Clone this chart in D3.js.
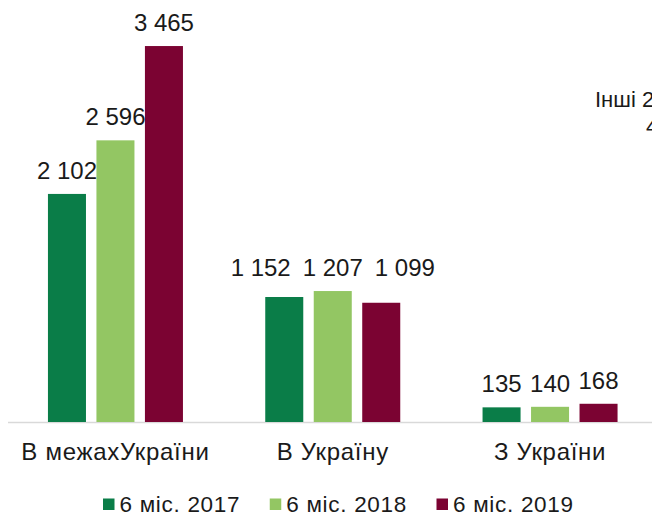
<!DOCTYPE html>
<html>
<head>
<meta charset="utf-8">
<script src="https://cdn.jsdelivr.net/npm/d3@7"></script>
<style>
  html, body { margin: 0; padding: 0; background: #fff; }
  svg { display: block; font-family: "Liberation Sans", Arial, sans-serif; }
</style>
</head>
<body>
<svg id="chart" width="652" height="515"></svg>
<script>
// ---- data ----
const categories = ["В межахУкраїни", "В Україну", "З України"];
const seriesNames = ["6 міс. 2017", "6 міс. 2018", "6 міс. 2019"];
const values2017 = [2102, 1152, 135];
const values2018 = [2596, 1207, 140];
const values2019 = [3465, 1099, 168];
const seriesColors = ["#0a7d48", "#93c663", "#7b0332"];
const sideNote = ["Інші 2", "4"];

const seriesValues = [values2017, values2018, values2019];
const fmt = v => d3.format(",")(v).replace(/,/g, " ");

const svg = d3.select("#chart");
const W = 652, H = 515;
const baseY = 422;

const x0 = d3.scaleBand().domain(categories).range([6.8, 658.7]).paddingInner(0).paddingOuter(0);
const x1 = d3.scaleBand().domain(seriesNames).range([-67.5, 67.5]).paddingInner(0.216).paddingOuter(0);
const y = d3.scaleLinear().domain([0, 4000]).range([baseY, -12]);

// axis
const axis = svg.append("g").attr("transform", `translate(0,${baseY + 0.5})`)
  .call(d3.axisBottom(x0).tickSize(0).tickSizeOuter(0));
axis.select(".domain").attr("stroke", "#d9d9d9").attr("stroke-width", 1.5)
  .attr("d", `M8,0H${W}`);
axis.selectAll(".tick text").attr("y", 37.5).attr("dy", 0)
  .attr("font-size", 24).attr("fill", "#1a1a1a")
  .attr("letter-spacing", 0.7)
  .attr("font-family", "Liberation Sans, Arial, sans-serif");

// bars
const groups = svg.append("g").selectAll("g").data(categories).join("g")
  .attr("transform", d => `translate(${x0(d) + x0.bandwidth() / 2},0)`);

groups.each(function(cat, ci) {
  const g = d3.select(this);
  const items = seriesNames.map((s, si) => ({ s, si, v: seriesValues[si][ci] }));
  g.selectAll("rect").data(items).join("rect")
    .attr("x", d => x1(d.s))
    .attr("width", x1.bandwidth())
    .attr("y", d => y(d.v))
    .attr("height", d => baseY - y(d.v))
    .attr("fill", d => seriesColors[d.si]);

  // labels with simple collision avoidance
  const labels = g.selectAll("text.lbl").data(items).join("text")
    .attr("class", "lbl")
    .attr("font-size", 24).attr("fill", "#1a1a1a")
    .attr("text-anchor", "middle")
    .text(d => fmt(d.v));
  const gap = 12, h = 18;
  const L = items.map((d, i) => {
    const w = labels.nodes()[i].getComputedTextLength();
    return { cx: x1(d.s) + x1.bandwidth() / 2, by: y(d.v) - 15, w };
  });
  let overlap = false;
  for (let i = 1; i < L.length; i++) {
    const a = L[i - 1], b = L[i];
    const hx = (b.cx - b.w / 2) < (a.cx + a.w / 2);
    const vy = Math.abs(a.by - b.by) < h;
    if (hx && vy) overlap = true;
  }
  if (overlap) {
    const minBy = d3.min(L, d => d.by);
    const center = d3.mean(L, d => d.cx);
    const totalW = d3.sum(L, d => d.w) + gap * (L.length - 1);
    let cur = center - totalW / 2;
    L.forEach(d => { d.by = minBy; d.cx = cur + d.w / 2; cur += d.w + gap; });
  }
  labels.attr("x", (d, i) => L[i].cx).attr("y", (d, i) => L[i].by);
});

// legend
const legend = svg.append("g").attr("transform", "translate(103,0)");
let lx = 0;
seriesNames.forEach((s, i) => {
  const it = legend.append("g").attr("transform", `translate(${lx},0)`);
  it.append("rect").attr("x", 0).attr("y", 498.5).attr("width", 11.5).attr("height", 11.5)
    .attr("fill", seriesColors[i]);
  const t = it.append("text").attr("x", 16.5).attr("y", 511.5)
    .attr("font-size", 22.5).attr("letter-spacing", 0.7).attr("fill", "#1a1a1a").text(s);
  lx += 16.5 + t.node().getComputedTextLength() + 29.5;
});

// clipped side note (partially visible text, cut at the right edge as in the reference)
svg.append("text").attr("x", 595).attr("y", 107).attr("font-size", 22).attr("fill", "#1a1a1a").text(sideNote[0]);
svg.append("text").attr("x", 646).attr("y", 134).attr("font-size", 22).attr("fill", "#1a1a1a").text(sideNote[1]);
</script>
</body>
</html>
